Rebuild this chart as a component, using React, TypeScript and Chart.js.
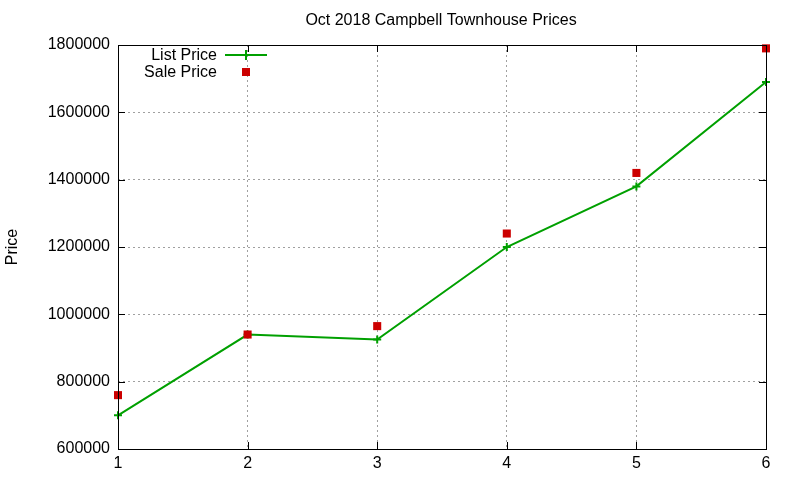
import React, { useEffect, useRef } from 'react';
import { Chart, registerables } from 'chart.js';

Chart.register(...registerables);

const months = [1, 2, 3, 4, 5, 6];
const listPrice = [700000, 940000, 925000, 1200000, 1380000, 1690000];
const salePrice = [760000, 940000, 965000, 1240000, 1420000, 1790000];
const yTicks = [600000, 800000, 1000000, 1200000, 1400000, 1600000, 1800000];

const FONT = '"Liberation Sans", Arial, sans-serif';
const GREEN = '#00a000';
const RED = '#cc0000';

// gnuplot-ish frame, inward tick marks, title, y label and key
const gnuplotDecor = {
  id: 'gnuplotDecor',
  afterDraw(chart: any) {
    const { ctx, chartArea: a, scales } = chart;
    ctx.save();
    ctx.strokeStyle = '#000';
    ctx.lineWidth = 1;
    ctx.strokeRect(a.left + 0.5, a.top + 0.5, a.right - a.left, a.bottom - a.top);

    ctx.beginPath();
    yTicks.forEach((v) => {
      const y = Math.round(scales.y.getPixelForValue(v)) + 0.5;
      ctx.moveTo(a.left, y); ctx.lineTo(a.left + 7, y);
      ctx.moveTo(a.right, y); ctx.lineTo(a.right - 7, y);
    });
    months.forEach((m) => {
      const x = Math.round(scales.x.getPixelForValue(m)) + 0.5;
      ctx.moveTo(x, a.bottom); ctx.lineTo(x, a.bottom - 7);
      ctx.moveTo(x, a.top); ctx.lineTo(x, a.top + 7);
    });
    ctx.stroke();

    ctx.fillStyle = '#000';
    ctx.font = `16px ${FONT}`;
    ctx.textAlign = 'center';
    ctx.textBaseline = 'middle';
    ctx.fillText('Oct 2018 Campbell Townhouse Prices', 441, 21);

    ctx.save();
    ctx.translate(13, 247);
    ctx.rotate(-Math.PI / 2);
    ctx.fillText('Price', 0, 0);
    ctx.restore();

    // key
    ctx.textAlign = 'right';
    ctx.fillText(chart.data.datasets[0].label, 217, 56);
    ctx.fillText(chart.data.datasets[1].label, 217, 73);
    ctx.strokeStyle = GREEN;
    ctx.lineWidth = 2;
    ctx.beginPath();
    ctx.moveTo(225, 55); ctx.lineTo(267, 55);
    ctx.moveTo(246, 50); ctx.lineTo(246, 60);
    ctx.stroke();
    ctx.fillStyle = RED;
    ctx.fillRect(242, 68, 8, 8);
    ctx.restore();
  },
};

const App: React.FC = () => {
  const canvasRef = useRef<HTMLCanvasElement>(null);

  useEffect(() => {
    if (!canvasRef.current) return;
    const chart = new Chart(canvasRef.current, {
      type: 'line',
      data: {
        datasets: [
          {
            label: 'List Price',
            data: months.map((m, i) => ({ x: m, y: listPrice[i] })),
            borderColor: GREEN,
            backgroundColor: GREEN,
            borderWidth: 2,
            pointStyle: 'cross',
            pointRadius: 4,
            pointBorderWidth: 2,
            pointBorderColor: GREEN,
            tension: 0,
            clip: false,
            order: 1,
          },
          {
            label: 'Sale Price',
            data: months.map((m, i) => ({ x: m, y: salePrice[i] })),
            showLine: false,
            pointStyle: 'rect',
            pointRadius: 5.7,
            pointBorderWidth: 0,
            backgroundColor: RED,
            borderColor: RED,
            clip: false,
            order: 0,
          },
        ],
      },
      options: {
        animation: false,
        responsive: false,
        layout: { padding: { top: 45, right: 34, left: 0, bottom: 0 } },
        plugins: {
          legend: { display: false },
          title: { display: false },
          tooltip: { enabled: false },
        },
        scales: {
          x: {
            type: 'linear',
            min: 1,
            max: 6,
            afterFit: (s: any) => { s.height = 31; },
            afterBuildTicks: (s: any) => { s.ticks = months.map((v) => ({ value: v })); },
            ticks: { color: '#000', font: { family: FONT, size: 16 }, padding: 5 },
            grid: { color: '#a0a0a0', drawTicks: false, lineWidth: 1 },
            border: { display: false, dash: [2, 3] },
          },
          y: {
            min: 600000,
            max: 1800000,
            afterFit: (s: any) => { s.width = 118; },
            afterBuildTicks: (s: any) => { s.ticks = yTicks.map((v) => ({ value: v })); },
            ticks: {
              color: '#000',
              font: { family: FONT, size: 16 },
              padding: 8,
              callback: (v: any) => String(v),
            },
            grid: { color: '#a0a0a0', drawTicks: false, lineWidth: 1 },
            border: { display: false, dash: [2, 3] },
          },
        },
      },
      plugins: [gnuplotDecor],
    });
    return () => chart.destroy();
  }, []);

  return (
    <div style={{ position: 'fixed', left: 0, top: 0, width: 800, height: 480, background: '#fff' }}>
      <canvas ref={canvasRef} width={800} height={480} />
    </div>
  );
};

export default App;
